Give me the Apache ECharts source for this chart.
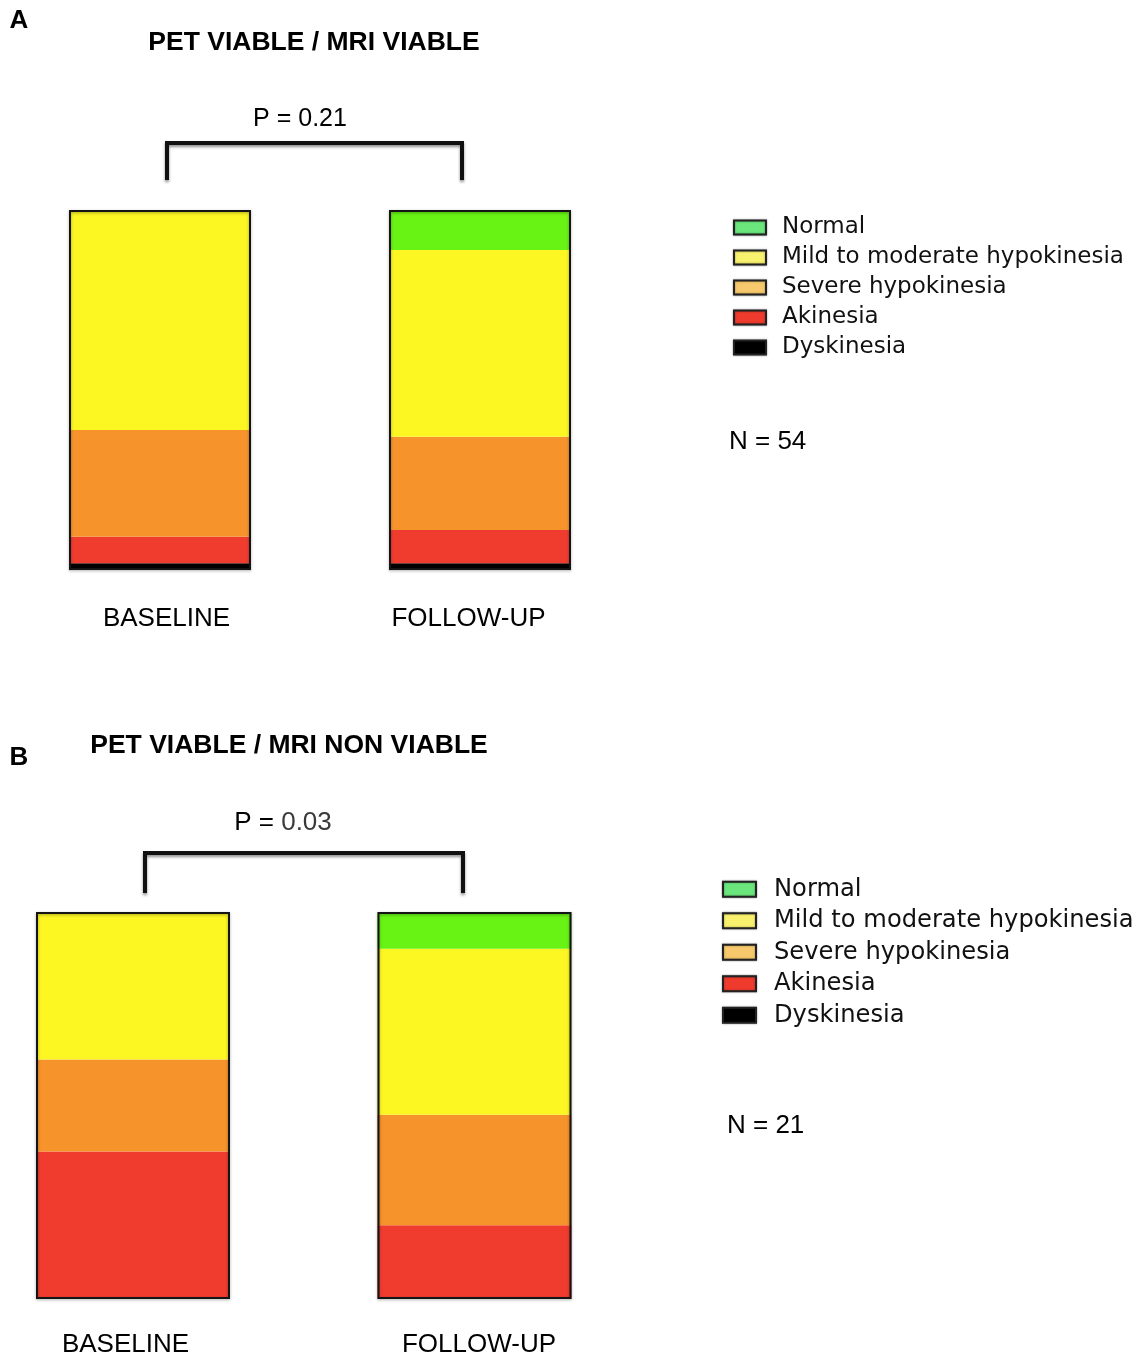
<!DOCTYPE html>
<html>
<head>
<meta charset="utf-8">
<script src="https://cdn.jsdelivr.net/npm/echarts@6/dist/echarts.min.js"></script>
<style>
html,body{margin:0;padding:0;background:#fff;}
#chart{width:1148px;height:1358px;}
</style>
</head>
<body>
<div id="chart"></div>
<script>
// ---- data ----
const categories = ['BASELINE', 'FOLLOW-UP'];
const levels = ['Normal', 'Mild to moderate hypokinesia', 'Severe hypokinesia', 'Akinesia', 'Dyskinesia'];

// Panel A: PET viable / MRI viable (N = 54), segment counts [baseline, follow-up]
const aNormal     = [0, 6];
const aMild       = [33, 28];
const aSevere     = [16, 14];
const aAkinesia   = [4, 5];
const aDyskinesia = [1, 1];

// Panel B: PET viable / MRI non viable (N = 21)
const bNormal     = [0, 2];
const bMild       = [8, 9];
const bSevere     = [5, 6];
const bAkinesia   = [8, 4];
const bDyskinesia = [0, 0];

const nA = 54, nB = 21;
const pA = '0.21', pB = '0.03';

// ---- styles ----
const barColors = {
  'Normal': '#68f314',
  'Mild to moderate hypokinesia': '#fcf622',
  'Severe hypokinesia': '#f6932b',
  'Akinesia': '#f03c2f',
  'Dyskinesia': '#000000'
};
const legendColors = {
  'Normal': '#6ae67c',
  'Mild to moderate hypokinesia': '#f8f16e',
  'Severe hypokinesia': '#f7c96c',
  'Akinesia': '#ef3b2d',
  'Dyskinesia': '#000000'
};
const HEL = '"Liberation Sans", Helvetica, Arial, sans-serif';

const panelA = {'Normal': aNormal, 'Mild to moderate hypokinesia': aMild, 'Severe hypokinesia': aSevere, 'Akinesia': aAkinesia, 'Dyskinesia': aDyskinesia};
const panelB = {'Normal': bNormal, 'Mild to moderate hypokinesia': bMild, 'Severe hypokinesia': bSevere, 'Akinesia': bAkinesia, 'Dyskinesia': bDyskinesia};

function totals(p) {
  return categories.map((c, i) => levels.reduce((s, l) => s + p[l][i], 0));
}

function panelSeries(p, gi, bw) {
  const out = [];
  const order = levels.slice().reverse(); // bottom to top
  order.forEach(l => {
    out.push({
      type: 'bar', name: l, stack: 'p' + gi,
      xAxisIndex: gi, yAxisIndex: gi,
      barWidth: bw, barGap: '-100%', clip: false,
      data: p[l],
      itemStyle: { color: barColors[l] },
      emphasis: { disabled: true },
      silent: true
    });
  });
  out.push({
    type: 'bar', name: 'outline' + gi,
    xAxisIndex: gi, yAxisIndex: gi,
    barWidth: bw, barGap: '-100%', clip: false,
    data: totals(p),
    z: 5,
    itemStyle: {
      color: 'rgba(0,0,0,0)', borderColor: '#151515', borderWidth: 2,
      shadowBlur: 3, shadowColor: 'rgba(0,0,0,0.35)', shadowOffsetY: 1
    },
    emphasis: { disabled: true },
    silent: true
  });
  return out;
}

function legendData() {
  return levels.map(l => ({
    name: l,
    itemStyle: { color: legendColors[l], borderColor: '#222', borderWidth: 2, shadowBlur: 2, shadowColor: 'rgba(0,0,0,0.4)' }
  }));
}

const chart = echarts.init(document.getElementById('chart'), null, { renderer: 'canvas' });

function xAxisFor(gi, margin, padA, padB) {
  return {
    type: 'category', gridIndex: gi, data: categories, boundaryGap: false,
    axisLine: { show: false }, axisTick: { show: false }, splitLine: { show: false },
    axisLabel: {
      margin: margin, color: '#000', interval: 0,
      formatter: (v, i) => i === 0 ? '{a|' + v + '}' : '{b|' + v + '}',
      rich: {
        a: { fontFamily: HEL, fontSize: 26, color: '#000', padding: padA },
        b: { fontFamily: HEL, fontSize: 26, color: '#000', padding: padB }
      }
    }
  };
}

const option = {
  backgroundColor: '#fff',
  animation: false,
  grid: [
    { left: 160, width: 320, top: 210, height: 360 },
    { left: 133, width: 341.5, top: 912, height: 388 }
  ],
  xAxis: [
    xAxisFor(0, 36, [0, 0, 0, 13], [0, 23, 0, 0]),
    xAxisFor(1, 33, [0, 15, 0, 0], [0, 0, 0, 9])
  ],
  yAxis: [
    { type: 'value', gridIndex: 0, min: 0, max: nA, show: false, splitLine: { show: false } },
    { type: 'value', gridIndex: 1, min: 0, max: nB, show: false, splitLine: { show: false } }
  ],
  legend: [
    {
      orient: 'vertical', left: 733, top: 216, icon: 'rect', padding: 0,
      itemWidth: 32, itemHeight: 14, itemGap: 7, selectedMode: false,
      textStyle: { fontFamily: '"DejaVu Sans", Verdana, sans-serif', fontSize: 23, lineHeight: 23, color: '#111', padding: [0, 0, 0, 11] },
      data: legendData()
    },
    {
      orient: 'vertical', left: 722, top: 877, icon: 'rect', padding: 0,
      itemWidth: 33, itemHeight: 15, itemGap: 7, selectedMode: false,
      textStyle: { fontFamily: '"DejaVu Sans", Verdana, sans-serif', fontSize: 24.2, lineHeight: 24.5, color: '#111', padding: [0, 0, 0, 13] },
      data: legendData()
    }
  ],
  series: [].concat(panelSeries(panelA, 0, 182), panelSeries(panelB, 1, 194)),
  graphic: [
    { type: 'text', x: 19, y: 21, style: { text: 'A', font: 'bold 26px ' + HEL, fill: '#000', align: 'center', verticalAlign: 'middle' } },
    { type: 'text', x: 314, y: 43, style: { text: 'PET VIABLE / MRI VIABLE', font: 'bold 26.5px ' + HEL, fill: '#000', align: 'center', verticalAlign: 'middle' } },
    { type: 'text', x: 300, y: 119, style: { text: 'P = ' + pA, font: '25px ' + HEL, fill: '#000', align: 'center', verticalAlign: 'middle' } },
    { type: 'polyline', shape: { points: [[167, 180], [167, 143], [462, 143], [462, 180]] },
      style: { stroke: '#111', lineWidth: 4, fill: null, lineJoin: 'miter', shadowBlur: 3, shadowColor: 'rgba(0,0,0,0.45)', shadowOffsetY: 2 } },
    { type: 'text', x: 729, y: 442, style: { text: 'N = ' + nA, font: '26px ' + HEL, fill: '#000', align: 'left', verticalAlign: 'middle' } },

    { type: 'text', x: 19, y: 758, style: { text: 'B', font: 'bold 26px ' + HEL, fill: '#000', align: 'center', verticalAlign: 'middle' } },
    { type: 'text', x: 289, y: 746, style: { text: 'PET VIABLE / MRI NON VIABLE', font: 'bold 26.5px ' + HEL, fill: '#000', align: 'center', verticalAlign: 'middle' } },
    { type: 'text', x: 283, y: 823, style: { text: '{k|P = }{v|' + pB + '}', font: '26px ' + HEL, fill: '#000', align: 'center', verticalAlign: 'middle',
        rich: { k: { font: '26px ' + HEL, fill: '#000' }, v: { font: '26px ' + HEL, fill: '#3a3a3a' } } } },
    { type: 'polyline', shape: { points: [[145, 893], [145, 853], [463, 853], [463, 893]] },
      style: { stroke: '#111', lineWidth: 4, fill: null, lineJoin: 'miter', shadowBlur: 3, shadowColor: 'rgba(0,0,0,0.45)', shadowOffsetY: 2 } },
    { type: 'text', x: 727, y: 1126, style: { text: 'N = ' + nB, font: '26px ' + HEL, fill: '#000', align: 'left', verticalAlign: 'middle' } }
  ]
};

chart.setOption(option);
</script>
</body>
</html>
